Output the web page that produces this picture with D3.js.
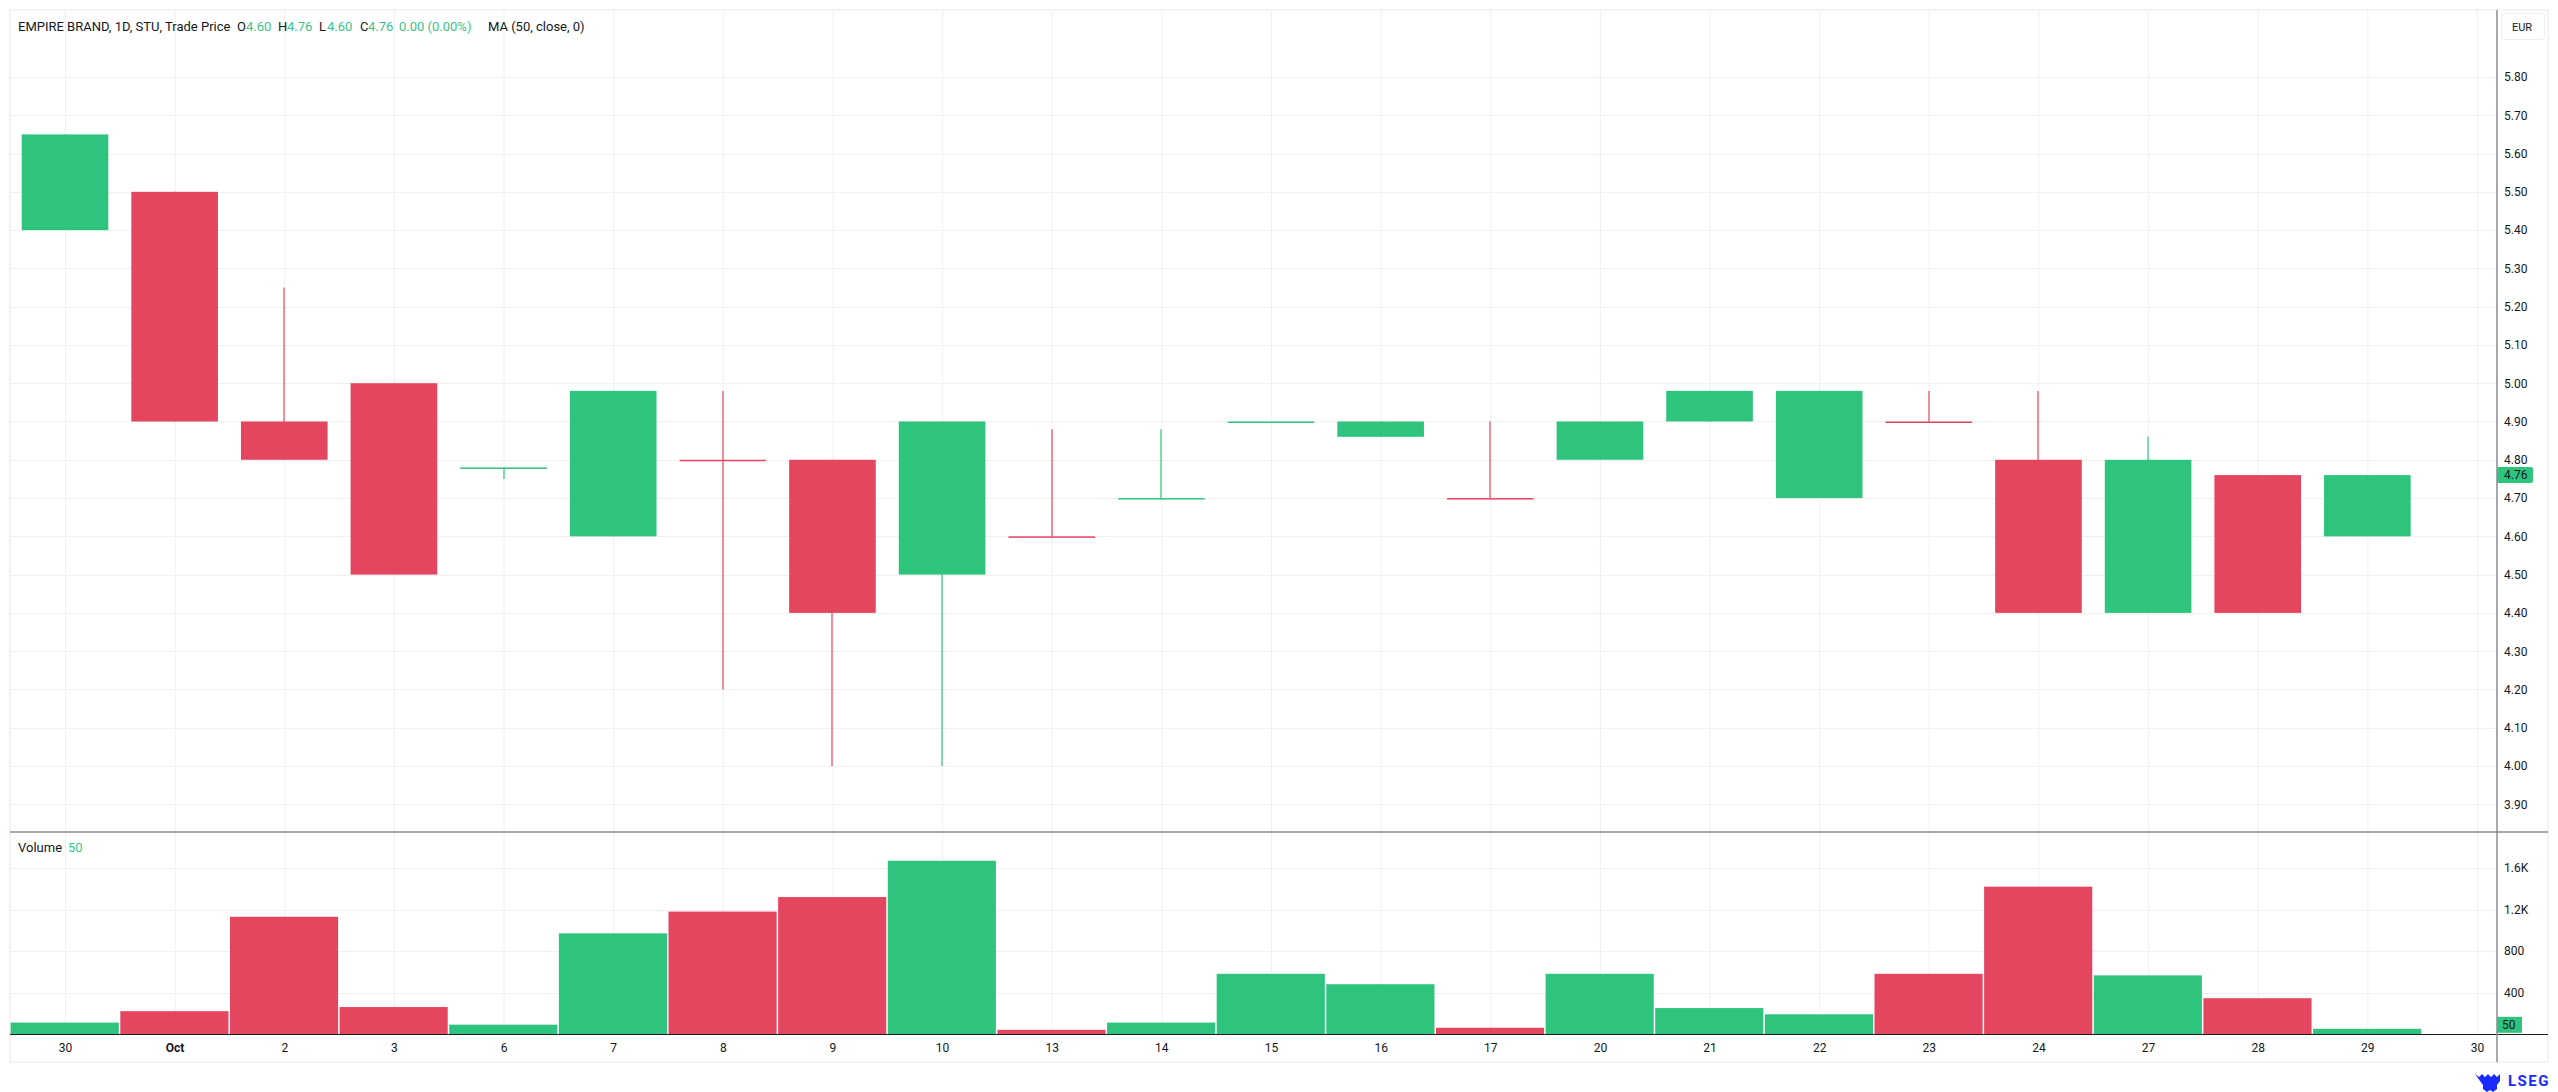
<!DOCTYPE html>
<html><head><meta charset="utf-8">
<script src="https://cdn.jsdelivr.net/npm/d3@7"></script>
<style>
body{margin:0;background:#fff;}
svg{display:block;font-family:Roboto,"Noto Sans",sans-serif;}
</style>
</head><body>
<svg id="c" width="2558" height="1092"></svg>
<script>
// ---- data ----
const dates  = ["30","Oct","2","3","6","7","8","9","10","13","14","15","16","17","20","21","22","23","24","27","28","29"];
const xTickLabels = ["30","Oct","2","3","6","7","8","9","10","13","14","15","16","17","20","21","22","23","24","27","28","29","30"];
const openV  = [5.40,5.50,4.90,5.00,4.78,4.60,4.80,4.80,4.50,4.60,4.70,4.90,4.86,4.70,4.80,4.90,4.70,4.90,4.80,4.40,4.76,4.60];
const highV  = [5.65,5.50,5.25,5.00,4.78,4.98,4.98,4.80,4.90,4.88,4.88,4.90,4.90,4.90,4.90,4.98,4.98,4.98,4.98,4.86,4.76,4.76];
const lowV   = [5.40,4.90,4.80,4.50,4.75,4.60,4.20,4.00,4.00,4.60,4.70,4.90,4.86,4.70,4.80,4.90,4.70,4.90,4.40,4.40,4.40,4.60];
const closeV = [5.65,4.90,4.80,4.50,4.78,4.98,4.80,4.40,4.90,4.60,4.70,4.90,4.90,4.70,4.90,4.98,4.98,4.90,4.40,4.80,4.40,4.76];
const volumeV= [110,220,1130,260,90,970,1180,1320,1670,40,110,580,480,60,580,250,190,580,1420,565,345,50];
const priceTicks = [3.9,4.0,4.1,4.2,4.3,4.4,4.5,4.6,4.7,4.8,4.9,5.0,5.1,5.2,5.3,5.4,5.5,5.6,5.7,5.8];
const volumeTicks = [400,800,1200,1600];
const lastPrice = 4.76, lastVolume = 50;

// ---- layout ----
const UP = "#2ec47e", DN = "#e4455f", TXT = "#131722", GRID = "#f0f0f0";
const L = 10, R = 2548, AX = 2497, TOP = 10, PB = 832, VB = 1034, FB = 1062;

const svg = d3.select("#c");
const x  = d3.scaleLinear().domain([0, xTickLabels.length - 1]).range([65, 2477]);
const step = x(1) - x(0);
const yP = d3.scaleLinear().domain([4.0, 5.8]).range([766, 77]);
const yV = d3.scaleLinear().domain([0, 1600]).range([VB, 868]);

const bars = dates.map((d, i) => {
  const o = openV[i], c = closeV[i];
  const up = c > o || (c === o && (i === 0 || c >= closeV[i-1]));
  return {i, d, o, h: highV[i], l: lowV[i], c, v: volumeV[i], up};
});

// frame
svg.append("rect").attr("x", L).attr("y", TOP).attr("width", R - L).attr("height", FB - TOP)
  .attr("fill", "#fff").attr("stroke", "#e6e8ee").attr("stroke-width", 1);

// clip paths
const defs = svg.append("defs");
defs.append("clipPath").attr("id", "cp").append("rect").attr("x", L).attr("y", TOP).attr("width", AX - L).attr("height", PB - TOP);
defs.append("clipPath").attr("id", "cv").append("rect").attr("x", L).attr("y", PB).attr("width", AX - L).attr("height", VB - PB);

// grid
const grid = svg.append("g");
grid.selectAll(".vg").data(d3.range(xTickLabels.length)).join("line")
  .attr("x1", i => x(i) + 0.5).attr("x2", i => x(i) + 0.5).attr("y1", TOP).attr("y2", VB)
  .attr("stroke", GRID);
grid.selectAll(".hp").data(priceTicks).join("line")
  .attr("x1", L).attr("x2", AX).attr("y1", d => Math.round(yP(d)) + 0.5).attr("y2", d => Math.round(yP(d)) + 0.5)
  .attr("stroke", GRID);
grid.selectAll(".hv").data(volumeTicks).join("line")
  .attr("x1", L).attr("x2", AX).attr("y1", d => Math.round(yV(d)) + 0.5).attr("y2", d => Math.round(yV(d)) + 0.5)
  .attr("stroke", GRID);

// candles
const cw = step * 0.79;
const pg = svg.append("g").attr("clip-path", "url(#cp)");
pg.selectAll(".wick").data(bars).join("line")
  .attr("x1", d => Math.round(x(d.i))).attr("x2", d => Math.round(x(d.i)))
  .attr("y1", d => yP(d.h)).attr("y2", d => yP(d.l))
  .attr("stroke", d => d.up ? UP : DN).attr("stroke-width", 1.2);
pg.selectAll(".body").data(bars).join("rect")
  .attr("x", d => x(d.i) - cw / 2).attr("width", cw)
  .attr("y", d => yP(Math.max(d.o, d.c)))
  .attr("height", d => Math.max(1.5, yP(Math.min(d.o, d.c)) - yP(Math.max(d.o, d.c))))
  .attr("fill", d => d.up ? UP : DN);

// volume
const vg = svg.append("g").attr("clip-path", "url(#cv)");
vg.selectAll(".vol").data(bars).join("rect")
  .attr("x", d => x(d.i) - step / 2 + 0.5).attr("width", step - 1.5)
  .attr("y", d => yV(d.v)).attr("height", d => yV(0) - yV(d.v))
  .attr("fill", d => d.up ? UP : DN);

// pane lines
svg.append("line").attr("x1", L).attr("x2", R).attr("y1", PB).attr("y2", PB).attr("stroke", "#8a8d95").attr("stroke-width", 1.5);
svg.append("line").attr("x1", L).attr("x2", R).attr("y1", VB + 0.5).attr("y2", VB + 0.5).attr("stroke", "#1e1e1e").attr("stroke-width", 1.2);
svg.append("line").attr("x1", AX).attr("x2", AX).attr("y1", TOP).attr("y2", FB).attr("stroke", "#8a8d95").attr("stroke-width", 1.5);

// price axis
const pa = svg.append("g").attr("transform", `translate(${AX},0)`)
  .call(d3.axisRight(yP).tickValues(priceTicks).tickFormat(d3.format(".2f")).tickSize(0).tickPadding(7));
pa.select(".domain").remove();
pa.selectAll("text").attr("font-size", 12).attr("fill", TXT).attr("font-family", "Roboto,'Noto Sans',sans-serif");

// volume axis
const va = svg.append("g").attr("transform", `translate(${AX},0)`)
  .call(d3.axisRight(yV).tickValues(volumeTicks)
    .tickFormat(d => d >= 1000 ? (d / 1000).toFixed(1) + "K" : String(d)).tickSize(0).tickPadding(7));
va.select(".domain").remove();
va.selectAll("text").attr("font-size", 12).attr("fill", TXT).attr("font-family", "Roboto,'Noto Sans',sans-serif");

// x axis
const xa = svg.append("g").attr("transform", `translate(0,${VB})`)
  .call(d3.axisBottom(x).tickValues(d3.range(xTickLabels.length)).tickFormat(i => xTickLabels[i]).tickSize(0).tickPadding(9));
xa.select(".domain").remove();
xa.selectAll("text").attr("font-size", 12).attr("fill", TXT).attr("font-family", "Roboto,'Noto Sans',sans-serif")
  .attr("font-weight", (i) => xTickLabels[i] === "Oct" ? "bold" : "normal");

// last price badge
const yl = yP(lastPrice);
svg.append("rect").attr("x", AX).attr("y", yl - 8).attr("width", 36).attr("height", 16).attr("rx", 2).attr("fill", UP);
svg.append("text").attr("x", AX + 7).attr("y", yl).attr("dy", "0.35em").attr("font-size", 12).attr("fill", TXT)
  .text(d3.format(".2f")(lastPrice));
// last volume badge
svg.append("rect").attr("x", AX).attr("y", yV(lastVolume) - 12).attr("width", 25).attr("height", 16).attr("fill", UP);
svg.append("text").attr("x", AX + 5).attr("y", yV(lastVolume) - 4).attr("dy", "0.35em").attr("font-size", 12).attr("fill", TXT)
  .text(lastVolume);

// currency box
svg.append("rect").attr("x", 2501.5).attr("y", 13.5).attr("width", 43).attr("height", 26).attr("rx", 3)
  .attr("fill", "#fff").attr("stroke", "#eceef2");
svg.append("text").attr("x", 2522).attr("y", 27).attr("dy", "0.35em").attr("text-anchor", "middle")
  .attr("font-size", 11).attr("fill", TXT).text("EUR");

// legend
const lg = svg.append("g").attr("font-size", 13);
const LG = "#3cc38a";
const legendY = 26;
[
  {x: 18, t: "EMPIRE BRAND, 1D, STU, Trade Price", c: TXT},
  {x: 237, t: "O", c: TXT}, {x: 246, t: "4.60", c: LG},
  {x: 278, t: "H", c: TXT}, {x: 287, t: "4.76", c: LG},
  {x: 319, t: "L", c: TXT}, {x: 327, t: "4.60", c: LG},
  {x: 360, t: "C", c: TXT}, {x: 368, t: "4.76", c: LG},
  {x: 399, t: "0.00 (0.00%)", c: LG},
  {x: 488, t: "MA (50, close, 0)", c: TXT}
].forEach(d => lg.append("text").attr("x", d.x).attr("y", legendY).attr("dy", "0.35em").attr("fill", d.c).text(d.t));

svg.append("text").attr("x", 18).attr("y", 847).attr("dy", "0.35em").attr("font-size", 13).attr("fill", TXT).text("Volume");
svg.append("text").attr("x", 68).attr("y", 847).attr("dy", "0.35em").attr("font-size", 13).attr("fill", LG).text(lastVolume);

// LSEG logo
const logo = svg.append("g").attr("fill", "#1a2bff");
logo.append("path").attr("d", "M2475,1074 l4,3 l3,-3 l3,3 l3,-3 l3,3 l3,-3 l3,3 l3,-3 l0,7 l-3,4 l0,4 l-4,3 l-3,-2 l-3,2 l-4,-3 l0,-4 l-3,-4 z");
svg.append("text").attr("x", 2508).attr("y", 1081).attr("dy", "0.35em").attr("font-size", 15).attr("font-weight", "bold")
  .attr("letter-spacing", 1.5).attr("fill", "#1a2bff").text("LSEG");
</script>
</body></html>
